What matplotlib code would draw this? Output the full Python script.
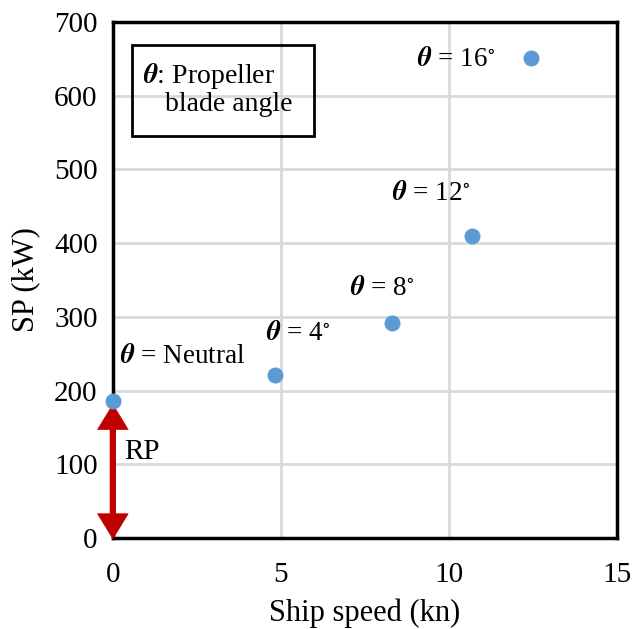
import numpy as np
import matplotlib.pyplot as plt
from matplotlib.patches import Rectangle

plt.rcParams['font.family'] = ['Liberation Serif', 'DejaVu Serif']
plt.rcParams['mathtext.fontset'] = 'stix'

# operating points: ship speed vs shaft power
speed = [0.0, 4.82, 8.32, 10.7, 12.44]
power = [186, 221, 291, 410, 651]
labels = [r'$\boldsymbol{\theta}$ = Neutral', r'$\boldsymbol{\theta}$ = 4$^{\circ}$',
          r'$\boldsymbol{\theta}$ = 8$^{\circ}$', r'$\boldsymbol{\theta}$ = 12$^{\circ}$',
          r'$\boldsymbol{\theta}$ = 16$^{\circ}$']
label_pos = [(0.21, 246), (4.55, 278), (7.05, 339), (8.3, 467), (9.05, 649)]
rp_value = power[0]

fig = plt.figure(figsize=(6.34, 6.29), dpi=100)
ax = fig.add_axes([0.178, 0.1447, 0.795, 0.8203])

ax.set_xlim(0, 15)
ax.set_ylim(0, 700)
ax.set_xticks([0, 5, 10, 15])
ax.set_yticks(range(0, 701, 100))
ax.grid(True, color='#D9D9D9', lw=2)
ax.set_axisbelow(True)
ax.tick_params(length=0, labelsize=21)
ax.tick_params(axis='x', pad=17)
ax.tick_params(axis='y', pad=11)
for s in ax.spines.values():
    s.set_linewidth(2.5)
    s.set_color('black')

ax.scatter(speed, power, s=110, color='#5B9BD5', zorder=4, clip_on=False)

for txt, (tx, ty) in zip(labels, label_pos):
    ax.text(tx, ty, txt, fontsize=19.5, ha='left', va='center')

# residual power arrow: thick shaft plus sharp filled heads
rp_top = rp_value - 4
ax.annotate('', xy=(0, 10), xytext=(0, rp_top - 10),
            arrowprops=dict(arrowstyle='-', lw=4.5, color='#C00000',
                            shrinkA=0, shrinkB=0),
            annotation_clip=False, zorder=3)
ax.annotate('', xy=(0, -2), xytext=(0, rp_top),
            arrowprops=dict(arrowstyle='<|-|>,head_length=0.9,head_width=0.55',
                            mutation_scale=20, lw=0.5, color='#C00000',
                            shrinkA=0, shrinkB=0),
            annotation_clip=False, zorder=3)
ax.text(0.35, 117, 'RP', fontsize=21, ha='left', va='center')

# key box
ax.add_patch(Rectangle((0.038, 0.779), 0.362, 0.176, transform=ax.transAxes,
                       fill=False, lw=2, ec='black', zorder=5))
ax.text(0.06, 0.895, r'$\boldsymbol{\theta}$: Propeller', transform=ax.transAxes,
        fontsize=20, va='center', ha='left')
ax.text(0.103, 0.84, 'blade angle', transform=ax.transAxes,
        fontsize=20, va='center', ha='left')

ax.set_xlabel('Ship speed (kn)', fontsize=22, labelpad=8)
ax.set_ylabel('SP (kW)', fontsize=22, labelpad=10)

fig.savefig('out.png', dpi=100)
